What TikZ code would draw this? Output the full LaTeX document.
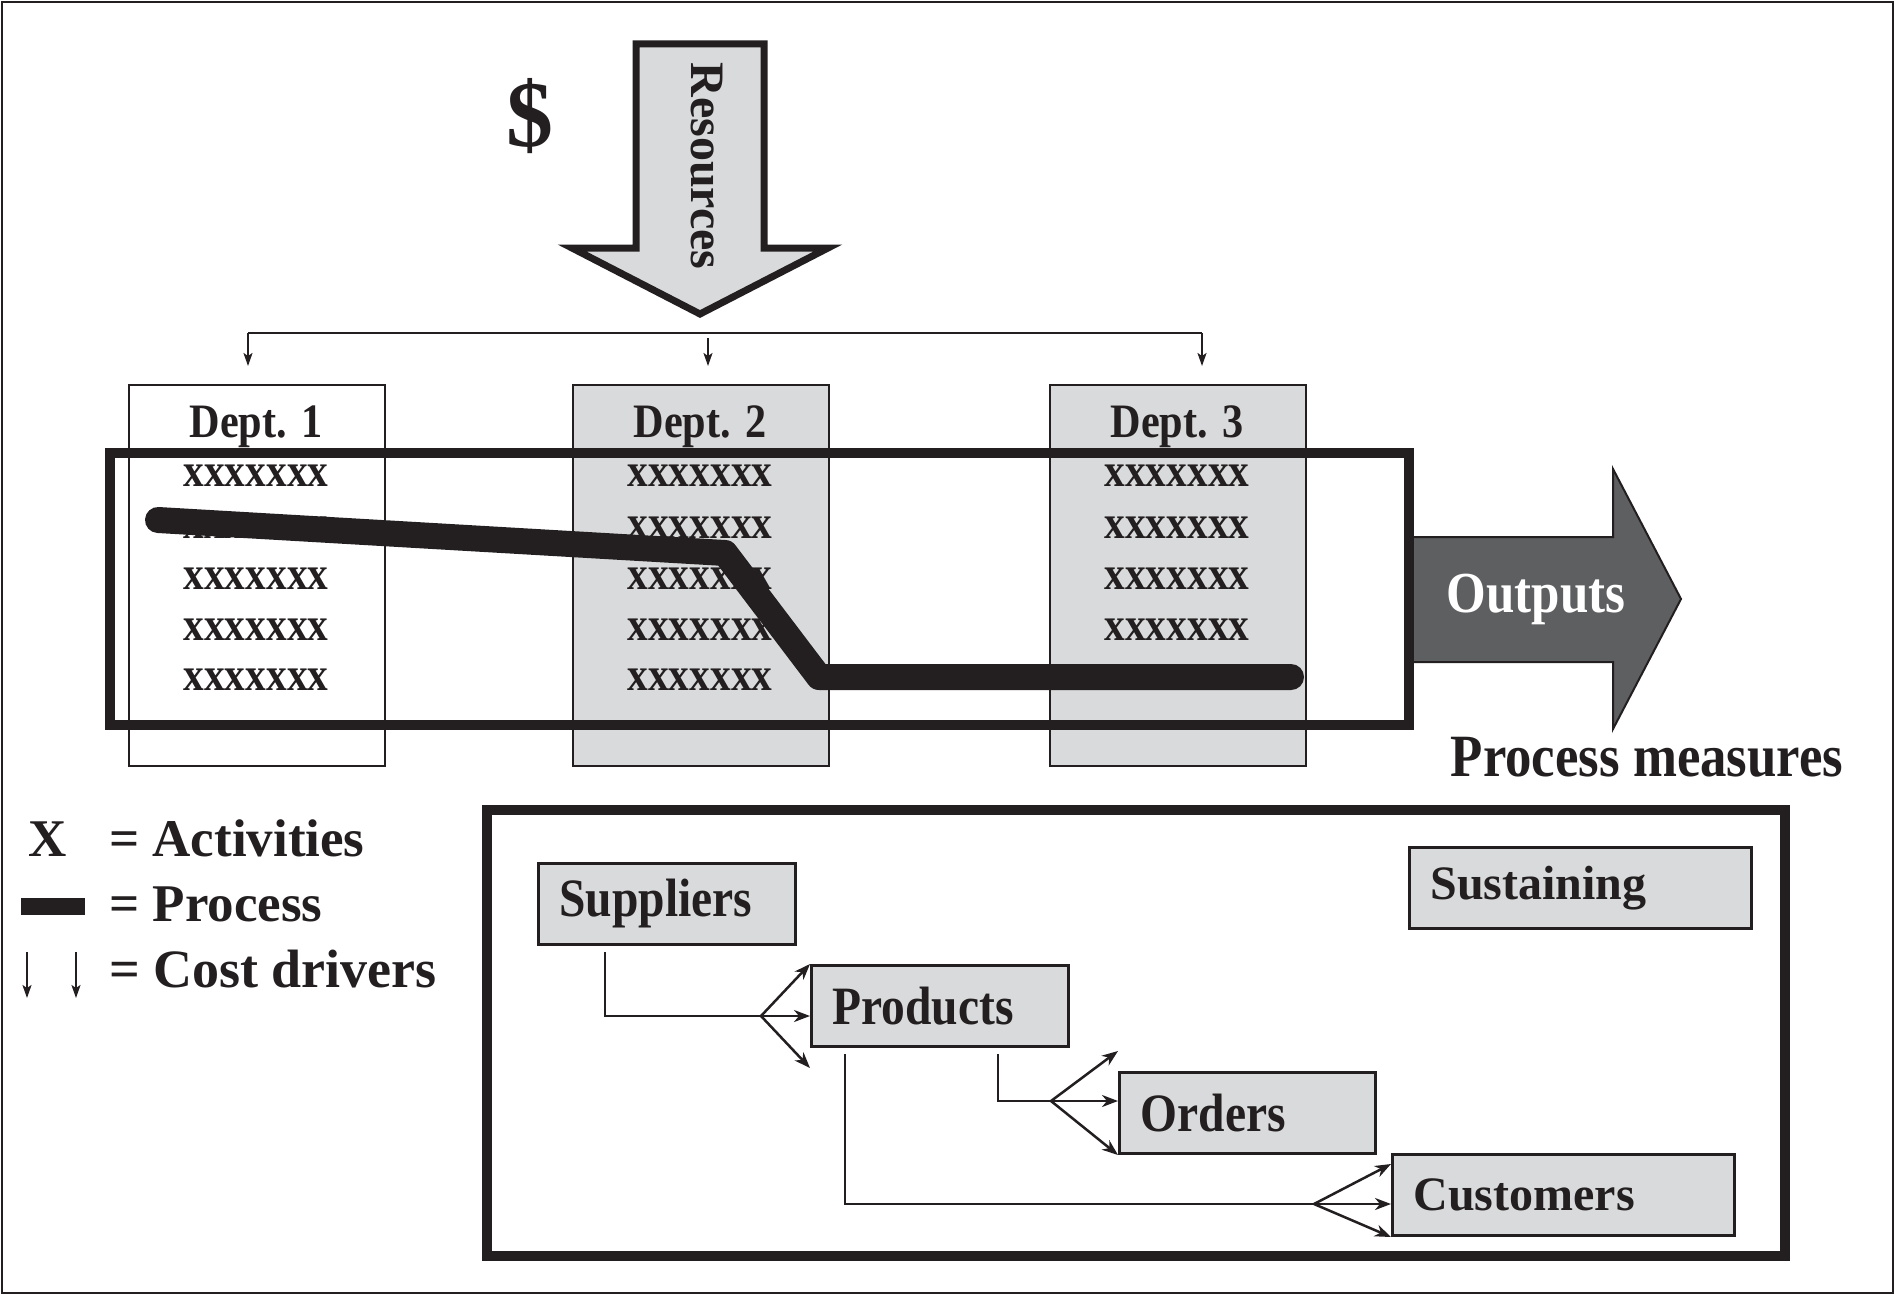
\documentclass[tikz,border=0pt]{standalone}
\usepackage{fontspec}
\setmainfont{Liberation Serif}
\newfontfamily\condfont{Liberation Serif}[FakeStretch=0.88]
\usetikzlibrary{arrows.meta,calc}
\definecolor{lgray}{HTML}{D9DADB}
\definecolor{dgray}{HTML}{5E5F61}
\definecolor{ink}{HTML}{231F20}
\tikzset{
  fs/.style={font=\fontsize{#1}{#1}\selectfont\bfseries, text=ink, inner sep=0},
  cfs/.style={font=\condfont\fontsize{#1}{#1}\selectfont\bfseries, text=ink, inner sep=0},
  deptbox/.style={draw=ink, line width=2, anchor=north west, minimum width=256, minimum height=381, inner sep=0},
  catbox/.style={draw=ink, line width=3, fill=lgray, anchor=north west, minimum height=81,
     inner xsep=21, inner ysep=0, align=left},
  thickframe/.style={draw=ink, line width=10, inner sep=0},
  conn/.style={draw=ink, line width=2.5},
  fanarr/.style={draw=ink, line width=2.5, -{Stealth[length=16pt,width=12pt,inset=5pt]}},
  droparr/.style={draw=ink, line width=2, -{Stealth[length=13pt,width=9pt,inset=3pt]}},
  procline/.style={draw=ink, line width=26, line cap=round, line join=round},
}
\begin{document}
\begin{tikzpicture}[x=1pt,y=-1pt]
\useasboundingbox (0,0) rectangle (1895,1295);
\draw[ink, line width=2.5] (2,2) rectangle (1893,1293);

% dollar sign and resources arrow
\node[fs=94] (dollar) at (530,116) {\$};
\draw[ink, line width=7, fill=lgray, line join=miter]
  (636,44) -- (764,44) -- (764,248) -- (828,248) -- (700,314) -- (572,248) -- (636,248) -- cycle;
\node[fs=48, rotate=-90] (res) at (707,166) {Resources};

% distribution line
\coordinate (c1) at (248,333);
\coordinate (c2) at (708,333);
\coordinate (c3) at (1202,333);
\coordinate (e1) at (248,366);
\coordinate (e2) at (708,366);
\coordinate (e3) at (1202,366);
\draw[ink, line width=2] (c1) -- (c3);
\draw[droparr] (c1) -- (e1);
\draw[droparr] ($(c2)+(0,5)$) -- (e2);
\draw[droparr] (c3) -- (e3);

% departments
\node[deptbox, fill=white] (d1) at (128,384) {};
\node[deptbox, fill=lgray] (d2) at (572,384) {};
\node[deptbox, fill=lgray] (d3) at (1049,384) {};
\node[cfs=48, anchor=base] (d1l) at (256,437) {Dept. 1};
\node[cfs=48, anchor=base] (d2l) at (700,437) {Dept. 2};
\node[cfs=48, anchor=base] (d3l) at (1177,437) {Dept. 3};
\foreach \cx/\k in {256/1,700/2,1177/3}{
  \foreach \yy/\r in {476/1,528/2,579/3,630/4,680/5}{
    \node[cfs=47] (x\k\r) at (\cx,\yy) {xxxxxxx};
  }
}

% outputs arrow
\draw[ink, line width=2, fill=dgray, line join=miter]
  (1409,537) -- (1613,537) -- (1613,469) -- (1681,599) -- (1613,729) -- (1613,662) -- (1409,662) -- cycle;
\node[cfs=58, text=white] (outp) at (1536,599) {Outputs};

% process box and process line
\node[thickframe, minimum width=1299, minimum height=272] (procbox) at (759.5,589) {};
\draw[procline] (158,520) -- (725,553) -- (819,677) -- (1291,677);

\node[cfs=60] (pm) at (1647,757) {Process measures};

% legend
\node[fs=53, anchor=base] (lx) at (48,856) {X};
\node[fs=53, anchor=base west] (la) at (109,856) {= Activities};
\node[fill=ink, minimum width=64, minimum height=17, inner sep=0] (lbar) at (53,906.5) {};
\node[fs=53, anchor=base west] (lp) at (109,921) {= Process};
\coordinate (la1) at (27,952);
\coordinate (lb1) at (27,998);
\coordinate (la2) at (76,952);
\coordinate (lb2) at (76,998);
\draw[droparr] (la1) -- (lb1);
\draw[droparr] (la2) -- (lb2);
\node[fs=54, anchor=base west] (lc) at (109,987) {= Cost drivers};

% lower box
\node[thickframe, minimum width=1298, minimum height=446] (lowbox) at (1136,1033) {};
\node[catbox, minimum width=257, text width=215, cfs=54] (sup) at (537,862) {Suppliers};
\node[catbox, minimum width=257, text width=215, cfs=54] (prod) at (810,964) {Products};
\node[catbox, minimum width=256, text width=214, cfs=54] (ord) at (1118,1071) {Orders};
\node[catbox, minimum width=342, text width=300, fs=48] (cust) at (1391,1153) {Customers};
\node[catbox, minimum width=342, text width=300, fs=48] (sust) at (1408,846) {Sustaining};

% fans
\coordinate (f1) at (761,1016);
\draw[conn] ($(sup.south west)+(68,6)$) |- (f1);
\draw[fanarr] (f1) -- (prod.north west);
\draw[fanarr] (f1) -- (prod.west |- f1);
\draw[fanarr] (f1) -- ($(prod.south west)+(0,20)$);

\coordinate (f2) at (1051,1101);
\draw[conn] ($(prod.south west)+(188,6)$) |- (f2);
\draw[fanarr] (f2) -- ($(ord.north west)+(0,-20)$);
\draw[fanarr] (f2) -- (ord.west |- f2);
\draw[fanarr] (f2) -- (ord.south west);

\coordinate (f3) at (1314,1204);
\draw[conn] ($(prod.south west)+(35,6)$) |- (f3);
\draw[fanarr] (f3) -- ($(cust.north west)+(0,11)$);
\draw[fanarr] (f3) -- (cust.west |- f3);
\draw[fanarr] (f3) -- (cust.south west);
\end{tikzpicture}
\end{document}
